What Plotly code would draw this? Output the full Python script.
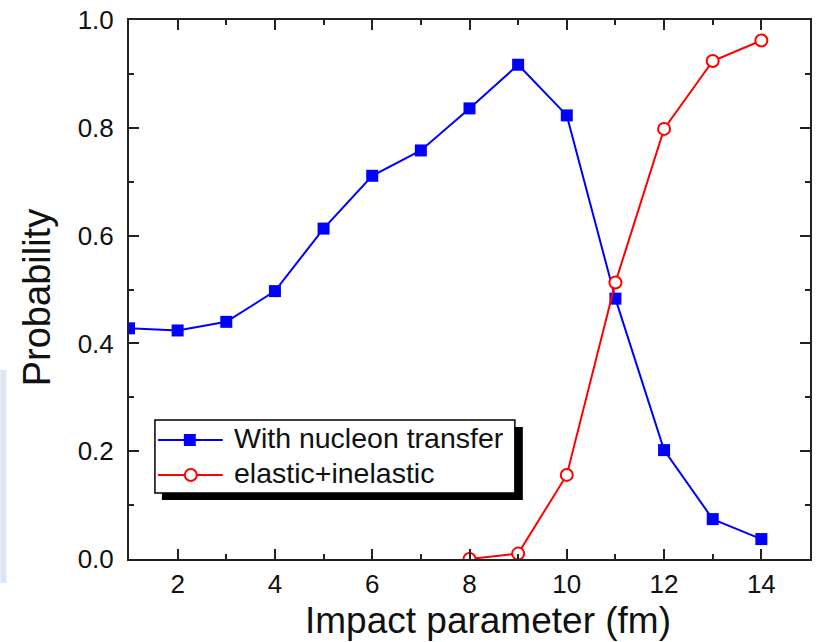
import plotly.graph_objects as go

# ---- data ----
impact_blue = [1, 2, 3, 4, 5, 6, 7, 8, 9, 10, 11, 12, 13, 14]
prob_transfer = [0.428, 0.424, 0.440, 0.497, 0.613, 0.711, 0.758, 0.836,
                 0.917, 0.823, 0.483, 0.202, 0.074, 0.037]
impact_red = [8, 9, 10, 11, 12, 13, 14]
prob_elastic = [0.0, 0.010, 0.156, 0.513, 0.798, 0.924, 0.962]
legend_labels = ["With nucleon transfer", "elastic+inelastic"]
x_title = "Impact parameter (fm)"
y_title = "Probability"

W, H = 817, 642
L, R, T, B = 129, 5, 20, 83
PW, PH = W - L - R, H - T - B
FONT = "Liberation Sans, Arial, Helvetica, sans-serif"
BLUE = "#0000ff"
RED = "#ff0000"
AX = "#222222"


def px(xp):
    return (xp - L) / PW


def py(yp):
    return (H - B - yp) / PH


fig = go.Figure()
fig.add_trace(go.Scatter(
    x=impact_blue, y=prob_transfer, mode="lines+markers", name=legend_labels[0],
    line=dict(color=BLUE, width=2),
    marker=dict(symbol="square", size=12, color=BLUE),
    showlegend=False,
))
fig.add_trace(go.Scatter(
    x=impact_red, y=prob_elastic, mode="lines+markers", name=legend_labels[1],
    line=dict(color=RED, width=2),
    marker=dict(symbol="circle", size=12, color="white", line=dict(color=RED, width=2)),
    showlegend=False,
))

axis_common = dict(
    showline=True, linecolor=AX, linewidth=2, mirror="ticks",
    ticks="inside", ticklen=10, tickwidth=1.5, tickcolor=AX,
    showgrid=False, zeroline=False,
    tickfont=dict(family=FONT, size=26, color="#111111"),
)

fig.update_xaxes(range=[1, 15], tick0=0, dtick=2,
                 minor=dict(dtick=1, ticks="inside", ticklen=5, tickwidth=1.5, tickcolor=AX),
                 ticklabelstandoff=1, **axis_common)
fig.update_yaxes(range=[0, 1], tick0=0, dtick=0.2, tickformat=".1f",
                 minor=dict(dtick=0.1, ticks="inside", ticklen=5, tickwidth=1.5, tickcolor=AX),
                 ticklabelstandoff=8, **axis_common)

shapes = []
annotations = []

# light blue strip at left edge
shapes.append(dict(type="rect", xref="paper", yref="paper", layer="below",
                   x0=px(0), x1=px(6), y0=py(370), y1=py(583),
                   fillcolor="#dce6f2", line=dict(width=0)))

# legend shadow and box
shapes.append(dict(type="rect", xref="paper", yref="paper",
                   x0=px(162), x1=px(524), y0=py(500), y1=py(427),
                   fillcolor="black", line=dict(width=0)))
shapes.append(dict(type="rect", xref="paper", yref="paper",
                   x0=px(155), x1=px(516), y0=py(493), y1=py(420),
                   fillcolor="white", line=dict(color="black", width=1.5)))

rows = [440, 475]
colors = [BLUE, RED]
for i, (ry, c, lab) in enumerate(zip(rows, colors, legend_labels)):
    shapes.append(dict(type="line", xref="paper", yref="paper",
                       x0=px(158), x1=px(223), y0=py(ry), y1=py(ry),
                       line=dict(color=c, width=2)))
    if i == 0:
        shapes.append(dict(type="rect", xref="paper", yref="paper",
                           x0=px(184), x1=px(196), y0=py(ry + 6), y1=py(ry - 6),
                           fillcolor=c, line=dict(width=0)))
    else:
        shapes.append(dict(type="circle", xref="paper", yref="paper",
                           x0=px(185), x1=px(197), y0=py(ry + 6), y1=py(ry - 6),
                           fillcolor="white", line=dict(color=c, width=2)))
    annotations.append(dict(xref="paper", yref="paper", x=px(232), y=py(ry - 2),
                            xanchor="left", yanchor="middle", showarrow=False,
                            text=lab, font=dict(family=FONT, size=28.5, color="#111111")))

# axis titles
annotations.append(dict(xref="paper", yref="paper", x=px(489.5), y=py(620),
                        xanchor="center", yanchor="middle", showarrow=False,
                        text=x_title, font=dict(family=FONT, size=37, color="#111111")))
annotations.append(dict(xref="paper", yref="paper", x=px(37), y=py(298),
                        xanchor="center", yanchor="middle", showarrow=False, textangle=-90,
                        text=y_title, font=dict(family=FONT, size=38, color="#111111")))

fig.update_layout(
    width=W, height=H,
    margin=dict(l=L, r=R, t=T, b=B),
    paper_bgcolor="white", plot_bgcolor="white",
    shapes=shapes, annotations=annotations,
    showlegend=False,
)

fig.write_html("out.html")
